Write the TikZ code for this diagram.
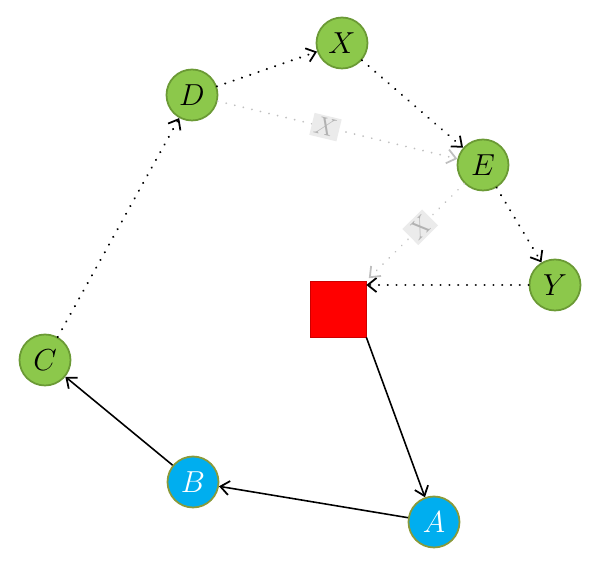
\documentclass[tikz,border=0pt]{standalone}
\usetikzlibrary{arrows.meta}
\definecolor{gfill}{HTML}{8CC84B}
\definecolor{gline}{HTML}{6B9A35}
\definecolor{bfill}{HTML}{00AEEF}
\definecolor{bline}{HTML}{8A9A3A}
\begin{document}
\begin{tikzpicture}[x=0.02cm,y=-0.02cm,
  gnode/.style={circle,draw=gline,fill=gfill,line width=1pt,minimum size=1.02cm,inner sep=0pt,font=\fontsize{17}{20}\selectfont},
  bnode/.style={circle,draw=bline,fill=bfill,line width=1pt,minimum size=1.02cm,inner sep=0pt,text=white,font=\fontsize{17}{20}\selectfont},
  sqnode/.style={rectangle,draw=red!80!black,fill=red,minimum size=1.12cm,inner sep=0pt},
  tip/.style={-{Straight Barb[length=5pt,width=8pt,line width=1pt]}},
  solidedge/.style={tip,line width=0.9pt,black},
  dotedge/.style={tip,line width=1.3pt,black,dash pattern=on 0.01pt off 5pt,line cap=round},
  greyedge/.style={tip,line width=1.1pt,black!25,dash pattern=on 0.01pt off 5pt,line cap=round},
  xlabel/.style={sloped,fill=black!8,text=black!30,inner sep=1.5pt,font=\fontsize{15}{17}\selectfont}
]
\useasboundingbox (0,0) rectangle (600,570);
\fill[white] (0,0) rectangle (600,570);
\node[gnode] (X) at (342,43) {$X$};
\node[gnode] (D) at (192,95) {$D$};
\node[gnode] (E) at (483,165) {$E$};
\node[gnode] (Y) at (555,285) {$Y$};
\node[gnode] (C) at (45,360) {$C$};
\node[bnode] (B) at (193,482) {$B$};
\node[bnode] (A) at (434,522) {$A$};
\node[sqnode] (S) at (338,309) {};
\draw[solidedge] (S.south east) -- (A);
\draw[solidedge] (A) -- (B);
\draw[solidedge] (B) -- (C);
\draw[dotedge] (C) -- (D);
\draw[dotedge] (D) -- (X);
\draw[dotedge] (X) -- (E);
\draw[dotedge] (E) -- (Y);
\draw[dotedge] (Y.west) -- (Y.west -| S.east);
\draw[greyedge] (D) -- node[xlabel,pos=0.45]{$X$} (E);
\draw[greyedge,shorten >=2pt] (E) -- node[xlabel,pos=0.45]{$X$} (S.north east);
\end{tikzpicture}
\end{document}
